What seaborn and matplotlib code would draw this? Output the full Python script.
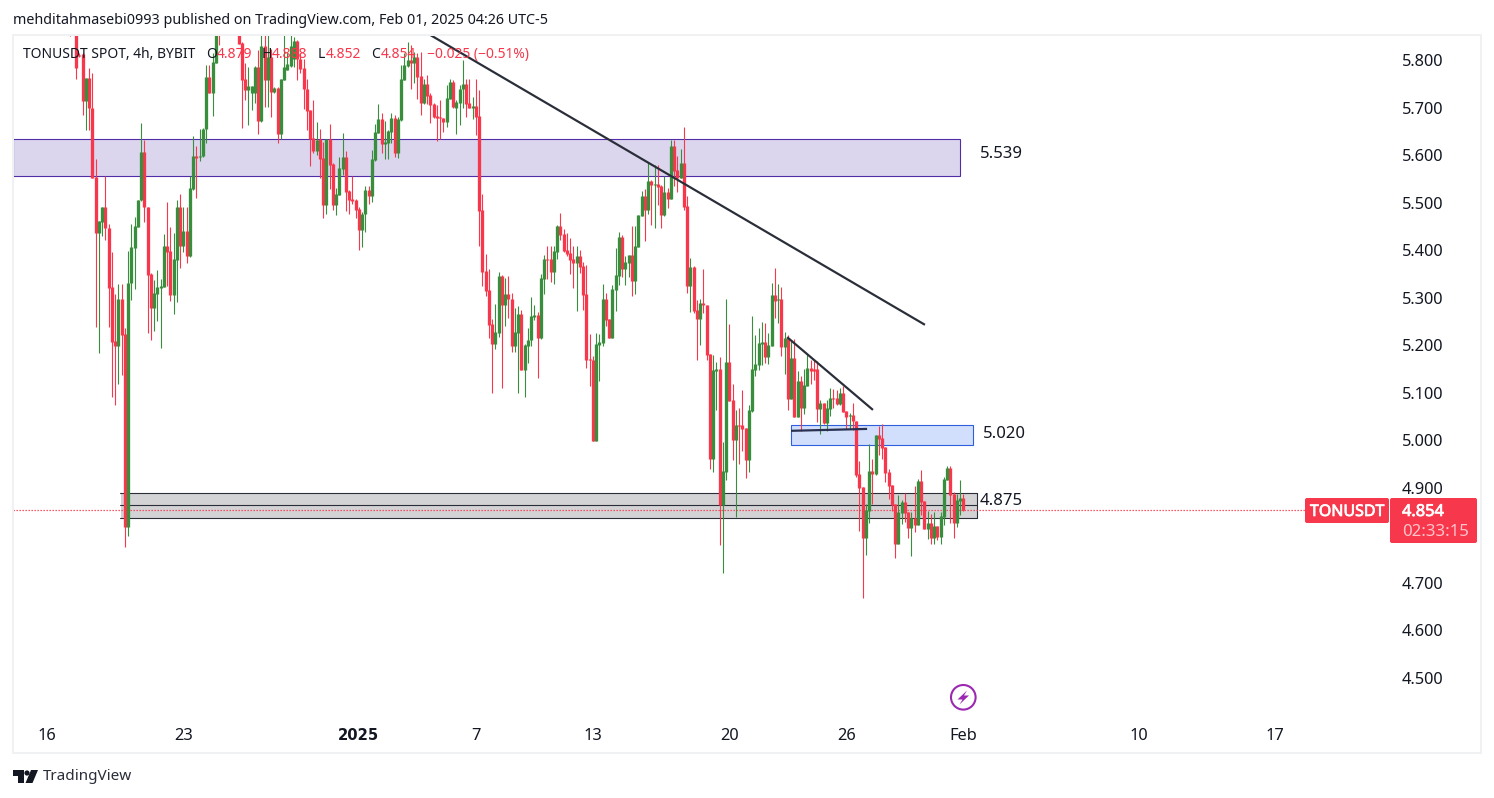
import numpy as np
import pandas as pd
import matplotlib
matplotlib.use("Agg")
import matplotlib.pyplot as plt
import matplotlib.patheffects as pe
from matplotlib.patches import Rectangle, Polygon, Circle, FancyBboxPatch
import seaborn as sns

opens = [5.877,5.891,5.870,5.810,5.813,5.714,5.763,5.698,5.554,5.437,
5.460,5.491,5.446,5.322,5.209,5.199,5.297,5.224,4.818,5.330,
5.405,5.449,5.505,5.606,5.490,5.350,5.279,5.308,5.321,5.323,
5.409,5.398,5.306,5.379,5.491,5.409,5.440,5.388,5.529,5.598,
5.595,5.598,5.654,5.765,5.731,5.794,5.870,5.870,5.895,5.880,
5.870,5.890,5.854,5.835,5.759,5.737,5.730,5.730,5.786,5.672,
5.829,5.758,5.806,5.733,5.742,5.644,5.758,5.780,5.787,5.803,
5.840,5.803,5.784,5.740,5.695,5.635,5.609,5.633,5.593,5.495,
5.633,5.581,5.494,5.516,5.571,5.596,5.524,5.507,5.505,5.486,
5.442,5.476,5.527,5.514,5.590,5.646,5.676,5.623,5.625,5.648,
5.678,5.604,5.674,5.758,5.787,5.800,5.793,5.806,5.766,5.709,
5.749,5.726,5.707,5.682,5.681,5.679,5.670,5.719,5.754,5.700,
5.710,5.738,5.749,5.709,5.700,5.703,5.682,5.484,5.356,5.316,
5.245,5.203,5.226,5.346,5.285,5.308,5.298,5.198,5.226,5.266,
5.147,5.199,5.211,5.260,5.264,5.215,5.340,5.382,5.382,5.354,
5.397,5.451,5.434,5.401,5.394,5.382,5.373,5.388,5.367,5.308,
5.171,5.169,4.999,5.201,5.205,5.298,5.255,5.215,5.316,5.346,
5.428,5.361,5.373,5.390,5.335,5.407,5.472,5.514,5.485,5.546,
5.537,5.539,5.535,5.474,5.523,5.508,5.619,5.569,5.552,5.584,
5.493,5.325,5.365,5.274,5.255,5.288,5.285,5.182,4.961,5.146,
5.150,4.863,4.934,5.165,5.085,5.001,5.032,5.032,5.026,4.959,
5.062,5.148,5.158,5.203,5.207,5.175,5.198,5.306,5.295,5.297,
5.196,5.215,5.087,5.173,5.049,5.125,5.068,5.114,5.152,5.150,
5.150,5.066,5.079,5.037,5.066,5.089,5.089,5.076,5.100,5.062,
5.051,5.053,5.041,4.929,4.901,4.795,4.851,4.935,4.929,5.011,
5.005,4.986,4.933,4.906,4.866,4.782,4.847,4.870,4.849,4.816,
4.837,4.822,4.914,4.872,4.813,4.826,4.795,4.820,4.797,4.839,
4.917,4.942,4.887,4.826,4.872,4.879]

closes = [5.870,5.877,5.784,5.808,5.714,5.763,5.698,5.552,5.437,5.461,
5.491,5.446,5.321,5.207,5.199,5.297,5.222,4.818,5.330,5.406,
5.451,5.505,5.606,5.490,5.348,5.279,5.310,5.322,5.325,5.409,
5.397,5.306,5.381,5.491,5.409,5.440,5.388,5.531,5.598,5.594,
5.599,5.655,5.765,5.731,5.796,5.852,5.859,5.895,5.880,5.870,
5.890,5.875,5.834,5.758,5.737,5.745,5.745,5.786,5.672,5.829,
5.758,5.806,5.733,5.742,5.644,5.760,5.786,5.791,5.829,5.840,
5.803,5.782,5.739,5.693,5.634,5.609,5.632,5.592,5.495,5.633,
5.579,5.494,5.518,5.572,5.596,5.522,5.505,5.503,5.484,5.442,
5.477,5.527,5.514,5.591,5.648,5.676,5.623,5.627,5.651,5.678,
5.604,5.676,5.759,5.789,5.800,5.793,5.806,5.765,5.710,5.749,
5.725,5.705,5.681,5.679,5.678,5.670,5.721,5.754,5.702,5.712,
5.740,5.749,5.707,5.700,5.703,5.681,5.483,5.355,5.315,5.243,
5.203,5.228,5.346,5.285,5.308,5.297,5.198,5.228,5.266,5.147,
5.201,5.212,5.262,5.264,5.215,5.342,5.382,5.380,5.354,5.398,
5.451,5.432,5.398,5.392,5.380,5.373,5.388,5.364,5.306,5.169,
5.169,4.999,5.203,5.207,5.298,5.253,5.215,5.319,5.348,5.428,
5.361,5.375,5.390,5.335,5.409,5.474,5.514,5.485,5.546,5.537,
5.539,5.533,5.474,5.523,5.508,5.619,5.567,5.552,5.584,5.491,
5.325,5.365,5.272,5.255,5.289,5.284,5.180,4.961,5.148,5.150,
4.863,4.935,5.165,5.083,5.001,5.032,5.030,5.024,4.959,5.064,
5.150,5.161,5.205,5.207,5.175,5.201,5.306,5.293,5.297,5.196,
5.215,5.087,5.173,5.049,5.125,5.068,5.116,5.152,5.146,5.146,
5.066,5.079,5.037,5.068,5.089,5.087,5.076,5.100,5.060,5.049,
5.053,5.041,4.927,4.900,4.795,4.853,4.935,4.929,5.011,5.003,
4.984,4.931,4.904,4.864,4.782,4.849,4.870,4.847,4.816,4.837,
4.822,4.914,4.870,4.813,4.826,4.795,4.820,4.797,4.841,4.919,
4.942,4.885,4.826,4.875,4.879,4.854]

highs = [5.884,5.898,5.874,5.814,5.814,5.763,5.784,5.773,5.591,5.461,
5.491,5.557,5.455,5.396,5.308,5.329,5.329,5.236,5.398,5.455,
5.470,5.505,5.667,5.632,5.491,5.353,5.337,5.358,5.339,5.435,
5.501,5.448,5.437,5.505,5.519,5.491,5.491,5.555,5.640,5.619,
5.655,5.656,5.789,5.789,5.814,5.877,5.884,5.905,5.910,5.900,
5.900,5.905,5.863,5.838,5.793,5.786,5.745,5.787,5.821,5.852,
5.852,5.852,5.824,5.744,5.744,5.761,5.852,5.814,5.852,5.849,
5.842,5.814,5.803,5.759,5.695,5.716,5.669,5.655,5.628,5.633,
5.665,5.583,5.530,5.597,5.646,5.609,5.527,5.556,5.507,5.490,
5.481,5.534,5.535,5.611,5.665,5.707,5.688,5.672,5.653,5.688,
5.684,5.681,5.789,5.814,5.837,5.831,5.817,5.815,5.817,5.761,
5.768,5.730,5.709,5.705,5.716,5.679,5.747,5.761,5.758,5.716,
5.747,5.801,5.759,5.759,5.723,5.759,5.737,5.519,5.392,5.361,
5.255,5.287,5.355,5.348,5.341,5.346,5.309,5.279,5.283,5.274,
5.203,5.236,5.302,5.285,5.269,5.350,5.390,5.408,5.409,5.408,
5.453,5.478,5.445,5.436,5.425,5.409,5.409,5.401,5.375,5.369,
5.224,5.178,5.225,5.224,5.329,5.310,5.255,5.327,5.404,5.438,
5.432,5.388,5.390,5.451,5.451,5.474,5.525,5.529,5.586,5.548,
5.579,5.579,5.537,5.555,5.531,5.632,5.632,5.598,5.613,5.659,
5.514,5.384,5.367,5.295,5.298,5.360,5.285,5.182,5.180,5.165,
5.175,4.997,5.297,5.245,5.118,5.064,5.069,5.106,5.026,5.074,
5.262,5.222,5.236,5.249,5.247,5.226,5.331,5.362,5.329,5.322,
5.228,5.222,5.211,5.213,5.146,5.135,5.150,5.182,5.169,5.169,
5.167,5.085,5.079,5.085,5.110,5.108,5.106,5.110,5.114,5.062,
5.058,5.079,5.041,4.957,4.901,4.866,4.992,4.961,5.011,5.030,
5.034,4.986,4.940,4.906,4.866,4.885,4.875,4.889,4.849,4.850,
4.904,4.919,4.938,4.872,4.851,4.845,4.849,4.820,4.849,4.923,
4.946,4.945,4.891,4.887,4.916,4.888]

lows = [5.850,5.870,5.761,5.807,5.684,5.653,5.653,5.552,5.239,5.183,
5.430,5.421,5.239,5.092,5.074,5.118,5.137,4.776,4.799,5.295,
5.318,5.449,5.504,5.460,5.226,5.210,5.229,5.250,5.195,5.323,
5.325,5.294,5.266,5.292,5.363,5.397,5.374,5.386,5.527,5.509,
5.588,5.597,5.626,5.730,5.682,5.793,5.831,5.862,5.870,5.865,
5.862,5.865,5.834,5.656,5.716,5.663,5.695,5.709,5.644,5.670,
5.702,5.702,5.681,5.730,5.626,5.633,5.758,5.779,5.786,5.786,
5.758,5.773,5.696,5.653,5.576,5.605,5.600,5.552,5.467,5.476,
5.529,5.484,5.474,5.515,5.558,5.483,5.476,5.498,5.467,5.400,
5.407,5.439,5.498,5.502,5.588,5.646,5.604,5.591,5.591,5.625,
5.597,5.593,5.672,5.758,5.786,5.738,5.751,5.717,5.684,5.707,
5.707,5.667,5.679,5.630,5.633,5.649,5.660,5.719,5.700,5.644,
5.663,5.700,5.681,5.698,5.675,5.642,5.409,5.325,5.304,5.215,
5.100,5.192,5.217,5.111,5.241,5.257,5.186,5.186,5.100,5.147,
5.092,5.162,5.199,5.253,5.132,5.214,5.308,5.339,5.332,5.329,
5.382,5.422,5.396,5.388,5.350,5.321,5.272,5.352,5.274,5.152,
5.114,4.999,4.999,5.125,5.199,5.241,5.215,5.215,5.271,5.327,
5.343,5.327,5.343,5.304,5.308,5.407,5.472,5.420,5.476,5.453,
5.446,5.495,5.447,5.472,5.489,5.508,5.535,5.523,5.552,5.485,
5.310,5.270,5.268,5.169,5.201,5.267,5.169,4.940,4.934,5.064,
4.780,4.720,4.917,5.083,4.959,4.839,4.950,4.978,4.921,4.933,
5.060,5.135,5.148,5.158,5.163,5.161,5.198,5.257,5.247,5.177,
5.140,5.064,5.087,5.049,5.049,5.020,5.055,5.114,5.118,5.127,
5.039,5.013,5.034,5.020,5.051,5.068,5.074,5.074,5.060,5.024,
5.024,5.022,4.923,4.809,4.668,4.759,4.826,4.866,4.927,4.969,
4.961,4.912,4.877,4.851,4.753,4.782,4.825,4.828,4.795,4.757,
4.807,4.822,4.843,4.813,4.792,4.782,4.782,4.790,4.782,4.822,
4.917,4.826,4.795,4.818,4.843,4.852]

price_ticks = [4.5,4.6,4.7,4.9,5.0,5.1,5.2,5.3,5.4,5.5,5.6,5.7,5.8]
date_tick_days = [-47,-40,-31,-25,-19,-12,-6,0,9,16]
date_tick_labels = ["16","23","2025","7","13","20","26","Feb","10","17"]

zone_purple = (5.556, 5.634)
zone_blue = (4.990, 5.032)
zone_grey = (4.837, 4.889, 4.863)
level_labels = ["5.539", "5.020", "4.875"]
level_label_prices = [5.602, 5.013, 4.872]
trend_a = ([110.9, 263.2], [5.853, 5.243])
trend_b = ([220.8, 247.2], [5.217, 5.064])
trend_c = ([222.0, 245.4], [5.020, 5.024])
last_price = 4.854

RED, GREEN, INK = "#F7374B", "#388E3C", "#131722"
PX = 72 / 100

sns.set_theme(style="white")
plt.rcParams["font.family"] = ["Noto Sans", "DejaVu Sans"]

W, H = 1494, 798
fig = plt.figure(figsize=(W / 100, H / 100), dpi=100, facecolor="white")
L, R, T, B = 13, 1395, 35, 720
ax = fig.add_axes([L / W, 1 - B / H, (R - L) / W, (B - T) / H])

STEP, LAST_X = 3.25, 963.3
n = len(opens)
last_i = n - 1
ax.set_xlim(last_i - (LAST_X - L) / STEP, last_i + (R - LAST_X) / STEP)
ax.set_ylim(5.8 - (B - 60) / 475.4, 5.8 + (60 - T) / 475.4)

df = pd.DataFrame({"i": np.arange(n), "o": opens, "h": highs, "l": lows, "c": closes})
df["dir"] = np.where(df.c >= df.o, "up", "down")
pal = {"up": GREEN, "down": RED}

wicks = df.melt(id_vars=["i", "dir"], value_vars=["h", "l"], value_name="p").sort_values(["i", "variable"])
bodies = df.melt(id_vars=["i", "dir"], value_vars=["o", "c"], value_name="p").sort_values(["i", "variable"])
sns.lineplot(data=wicks, x="i", y="p", hue="dir", units="i", estimator=None, sort=False,
             palette=pal, lw=1.1 * PX, legend=False, ax=ax, zorder=3, solid_capstyle="butt")
sns.lineplot(data=bodies, x="i", y="p", hue="dir", units="i", estimator=None, sort=False,
             palette=pal, lw=3.3 * PX, legend=False, ax=ax, zorder=3.2, solid_capstyle="butt")

x_of = lambda px: last_i + (px - LAST_X) / STEP
x0 = ax.get_xlim()[0]
EDGE = 1.1 * PX
ax.add_patch(Rectangle((x0, zone_purple[0]), x_of(960) - x0, zone_purple[1] - zone_purple[0],
                       fc="#DBD6EE", ec="#512DA8", lw=EDGE, zorder=1))
ax.add_patch(Rectangle((x_of(791), zone_blue[0]), x_of(973) - x_of(791), zone_blue[1] - zone_blue[0],
                       fc="#D1DFFC", ec="#2F5FDD", lw=EDGE, zorder=1))
ax.add_patch(Rectangle((x_of(121), zone_grey[0]), x_of(977) - x_of(121), zone_grey[1] - zone_grey[0],
                       fc="#D3D3D6", ec="none", zorder=1))
for y in zone_grey:
    ax.plot([x_of(120), x_of(977)], [y, y], color="#2A2E39", lw=EDGE, zorder=1.1)
ax.plot([x_of(977)] * 2, zone_grey[:2], color="#2A2E39", lw=EDGE, zorder=1.1)

for (xs, ys) in (trend_a, trend_b):
    ax.plot(xs, ys, color="#2A2E39", lw=2.2 * PX, zorder=4, solid_capstyle="butt")
ax.plot(*trend_c, color="#2A3050", lw=2.2 * PX, zorder=4, solid_capstyle="butt")

ax.plot([x0, x_of(1305)], [last_price] * 2, color=RED, lw=1.2 * PX, ls=(0, (1.1, 1.4)), zorder=2)

for lab, px, y in zip(level_labels, (980, 983, 980), level_label_prices):
    ax.text(x_of(px), y, lab, color=INK, fontsize=12, va="center", ha="left", zorder=5)

ax.yaxis.tick_right()
ax.set_yticks(price_ticks)
ax.set_yticklabels([f"{v:.3f}" for v in price_ticks], fontsize=11.8, color=INK)
ax.set_xticks([last_i + 6 * d for d in date_tick_days])
ax.set_xticklabels(date_tick_labels, fontsize=11.8, color=INK)
for t in ax.get_xticklabels():
    if t.get_text() == "2025":
        t.set_fontfamily("DejaVu Sans")
        t.set_fontweight("bold")
        t.set_fontsize(10.6)
ax.tick_params(axis="y", length=0, pad=5)
ax.tick_params(axis="x", length=0, pad=5.5)
ax.set_xlabel("")
ax.set_ylabel("")
ax.grid(False)
for s in ax.spines.values():
    s.set_visible(False)

ui = fig.add_axes([0, 0, 1, 1], zorder=10)
ui.set_xlim(0, W)
ui.set_ylim(H, 0)
ui.axis("off")
ui.patch.set_alpha(0)
ui.add_patch(Rectangle((13, 35), 1468, 718, fc="none", ec="#F0F1F3", lw=2 * PX))

ui.text(13, 20, "mehditahmasebi0993 published on TradingView.com, Feb 01, 2025 04:26 UTC-5",
        fontsize=10.3, color=INK, va="center", ha="left")
header = [(23, "TONUSDT SPOT, 4h, BYBIT", INK), (206, "O", INK), (217, "4.879", RED),
          (262, "H", INK), (272, "4.888", RED), (318, "L", INK), (326, "4.852", RED),
          (371, "C", INK), (381, "4.854", RED), (427, "\u22120.025 (\u22120.51%)", RED)]
for x, s, c in header:
    ui.text(x, 54.5, s, fontsize=10, color=c, va="center", ha="left")

thick = [pe.withStroke(linewidth=0.5, foreground="white")]
ui.add_patch(FancyBboxPatch((1305, 498), 84, 25, boxstyle="round,pad=0,rounding_size=2", fc=RED, ec="none"))
ui.add_patch(FancyBboxPatch((1390, 498), 87, 45, boxstyle="round,pad=0,rounding_size=2", fc=RED, ec="none"))
ui.text(1347, 512, "TONUSDT", color="white", fontsize=11.5, va="center", ha="center", path_effects=thick)
ui.text(1402, 512, "4.854", color="white", fontsize=11.8, va="center", ha="left", path_effects=thick)
ui.text(1402, 532, "02:33:15", color="#FFC4CB", fontsize=12.1, va="center", ha="left")

ui.add_patch(Circle((963.3, 697.3), 12.3, fc="white", ec="#9C27B0", lw=1.5))
ui.add_patch(Polygon([(967, 690.5), (957.5, 699.5), (962.5, 699.5), (959.5, 704.5), (969, 695.5), (964, 695.5)],
                     closed=True, fc="#9C27B0", ec="none"))

ui.add_patch(Polygon([(13, 770), (24, 770), (24, 783), (18, 783), (18, 776), (13, 776)], closed=True, fc=INK, ec="none"))
ui.add_patch(Circle((27, 773), 2.6, fc=INK, ec="none"))
ui.add_patch(Polygon([(31, 770), (38, 770), (32.5, 783), (25.5, 783)], closed=True, fc=INK, ec="none"))
ui.text(43, 777, "TradingView", fontsize=11, color="#2A2E39", va="center", ha="left")

fig.savefig("out.png", dpi=100, facecolor="white")
